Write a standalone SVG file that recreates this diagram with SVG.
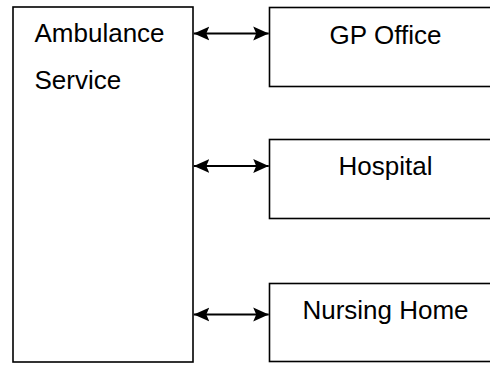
<svg xmlns="http://www.w3.org/2000/svg" width="490" height="365" viewBox="0 0 490 365">
<defs>
<style>
.box{fill:#fff;stroke:#000;stroke-width:1.6}
.lbl{font-family:"Liberation Sans",Arial,sans-serif;font-size:26px;fill:#000}
.c{text-anchor:middle}
.conn{stroke:#000;stroke-width:2.2;fill:none}
</style>
<marker id="ah" markerUnits="userSpaceOnUse" markerWidth="16" markerHeight="15" refX="15.5" refY="7.5" orient="auto-start-reverse" viewBox="0 0 16 15">
<path d="M0,0.5 L15.5,7.5 L0,14.5 L3,7.5 Z" fill="#000"/>
</marker>
</defs>
<rect width="490" height="365" fill="#fff"/>
<g id="ambulance">
<rect class="box" x="13" y="7" width="180" height="355"/>
<text class="lbl" x="34.5" y="42">Ambulance</text>
<text class="lbl" x="34.5" y="88.5">Service</text>
</g>
<g id="gp">
<rect class="box" x="269.5" y="7.5" width="233" height="79"/>
<text class="lbl c" x="385.5" y="43.5">GP Office</text>
</g>
<g id="hospital">
<rect class="box" x="269.5" y="139.5" width="233" height="79"/>
<text class="lbl c" x="385.5" y="175">Hospital</text>
</g>
<g id="nursing">
<rect class="box" x="269.5" y="283.5" width="233" height="78"/>
<text class="lbl c" x="385.5" y="319">Nursing Home</text>
</g>
<g id="connectors">
<line class="conn" x1="193.8" y1="33.5" x2="268.7" y2="33.5" marker-start="url(#ah)" marker-end="url(#ah)"/>
<line class="conn" x1="193.8" y1="166" x2="268.7" y2="166" marker-start="url(#ah)" marker-end="url(#ah)"/>
<line class="conn" x1="193.8" y1="314.5" x2="268.7" y2="314.5" marker-start="url(#ah)" marker-end="url(#ah)"/>
</g>
</svg>
